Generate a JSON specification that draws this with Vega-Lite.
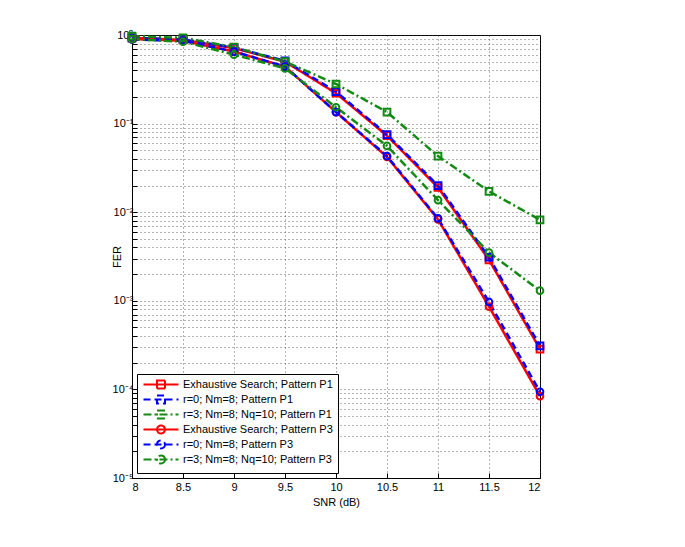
{
  "$schema": "https://vega.github.io/schema/vega-lite/v6.json",
  "autosize": "none",
  "padding": {"left": 132, "top": 35, "right": 145, "bottom": 69},
  "width": 408,
  "height": 443,
  "background": "white",
  "config": {
    "font": "Liberation Sans",
    "view": {"stroke": "black", "strokeWidth": 1},
    "axis": {
      "labelFont": "Liberation Sans",
      "titleFont": "Liberation Sans",
      "labelFontSize": 11,
      "titleFontSize": 11,
      "titleFontWeight": "normal",
      "labelColor": "black",
      "titleColor": "black",
      "domainColor": "black",
      "tickColor": "black",
      "grid": true,
      "gridColor": "#333",
      "gridDash": [1, 3],
      "gridOpacity": 0.75,
      "tickSize": -5
    },
    "legend": {
      "title": null,
      "orient": "bottom-left",
      "offset": 5,
      "padding": 5,
      "strokeColor": "black",
      "fillColor": "white",
      "labelFont": "Liberation Sans",
      "labelFontSize": 11,
      "labelColor": "black",
      "symbolSize": 64,
      "symbolStrokeWidth": 2,
      "symbolOpacity": 1,
      "labelOffset": 30,
      "rowPadding": -2
    }
  },
  "data": {
    "values": [
      {"snr": 8, "fer": 0.93, "series": "Exhaustive Search; Pattern P1"},
      {"snr": 8.5, "fer": 0.88, "series": "Exhaustive Search; Pattern P1"},
      {"snr": 9, "fer": 0.71, "series": "Exhaustive Search; Pattern P1"},
      {"snr": 9.5, "fer": 0.5, "series": "Exhaustive Search; Pattern P1"},
      {"snr": 10, "fer": 0.22, "series": "Exhaustive Search; Pattern P1"},
      {"snr": 10.5, "fer": 0.073, "series": "Exhaustive Search; Pattern P1"},
      {"snr": 11, "fer": 0.019, "series": "Exhaustive Search; Pattern P1"},
      {"snr": 11.5, "fer": 0.0029, "series": "Exhaustive Search; Pattern P1"},
      {"snr": 12, "fer": 0.000285, "series": "Exhaustive Search; Pattern P1"},
      {"snr": 8, "fer": 0.93, "series": "r=0; Nm=8; Pattern P1"},
      {"snr": 8.5, "fer": 0.89, "series": "r=0; Nm=8; Pattern P1"},
      {"snr": 9, "fer": 0.72, "series": "r=0; Nm=8; Pattern P1"},
      {"snr": 9.5, "fer": 0.51, "series": "r=0; Nm=8; Pattern P1"},
      {"snr": 10, "fer": 0.23, "series": "r=0; Nm=8; Pattern P1"},
      {"snr": 10.5, "fer": 0.075, "series": "r=0; Nm=8; Pattern P1"},
      {"snr": 11, "fer": 0.02, "series": "r=0; Nm=8; Pattern P1"},
      {"snr": 11.5, "fer": 0.0031, "series": "r=0; Nm=8; Pattern P1"},
      {"snr": 12, "fer": 0.00031, "series": "r=0; Nm=8; Pattern P1"},
      {"snr": 8, "fer": 0.97, "series": "r=3; Nm=8; Nq=10; Pattern P1"},
      {"snr": 8.5, "fer": 0.93, "series": "r=3; Nm=8; Nq=10; Pattern P1"},
      {"snr": 9, "fer": 0.73, "series": "r=3; Nm=8; Nq=10; Pattern P1"},
      {"snr": 9.5, "fer": 0.5, "series": "r=3; Nm=8; Nq=10; Pattern P1"},
      {"snr": 10, "fer": 0.28, "series": "r=3; Nm=8; Nq=10; Pattern P1"},
      {"snr": 10.5, "fer": 0.135, "series": "r=3; Nm=8; Nq=10; Pattern P1"},
      {"snr": 11, "fer": 0.043, "series": "r=3; Nm=8; Nq=10; Pattern P1"},
      {"snr": 11.5, "fer": 0.0172, "series": "r=3; Nm=8; Nq=10; Pattern P1"},
      {"snr": 12, "fer": 0.0082, "series": "r=3; Nm=8; Nq=10; Pattern P1"},
      {"snr": 8, "fer": 0.9, "series": "Exhaustive Search; Pattern P3"},
      {"snr": 8.5, "fer": 0.86, "series": "Exhaustive Search; Pattern P3"},
      {"snr": 9, "fer": 0.65, "series": "Exhaustive Search; Pattern P3"},
      {"snr": 9.5, "fer": 0.44, "series": "Exhaustive Search; Pattern P3"},
      {"snr": 10, "fer": 0.135, "series": "Exhaustive Search; Pattern P3"},
      {"snr": 10.5, "fer": 0.042, "series": "Exhaustive Search; Pattern P3"},
      {"snr": 11, "fer": 0.0083, "series": "Exhaustive Search; Pattern P3"},
      {"snr": 11.5, "fer": 0.00086, "series": "Exhaustive Search; Pattern P3"},
      {"snr": 12, "fer": 0.000084, "series": "Exhaustive Search; Pattern P3"},
      {"snr": 8, "fer": 0.89, "series": "r=0; Nm=8; Pattern P3"},
      {"snr": 8.5, "fer": 0.86, "series": "r=0; Nm=8; Pattern P3"},
      {"snr": 9, "fer": 0.65, "series": "r=0; Nm=8; Pattern P3"},
      {"snr": 9.5, "fer": 0.44, "series": "r=0; Nm=8; Pattern P3"},
      {"snr": 10, "fer": 0.135, "series": "r=0; Nm=8; Pattern P3"},
      {"snr": 10.5, "fer": 0.043, "series": "r=0; Nm=8; Pattern P3"},
      {"snr": 11, "fer": 0.0085, "series": "r=0; Nm=8; Pattern P3"},
      {"snr": 11.5, "fer": 0.00097, "series": "r=0; Nm=8; Pattern P3"},
      {"snr": 12, "fer": 0.000094, "series": "r=0; Nm=8; Pattern P3"},
      {"snr": 8, "fer": 0.9, "series": "r=3; Nm=8; Nq=10; Pattern P3"},
      {"snr": 8.5, "fer": 0.84, "series": "r=3; Nm=8; Nq=10; Pattern P3"},
      {"snr": 9, "fer": 0.6, "series": "r=3; Nm=8; Nq=10; Pattern P3"},
      {"snr": 9.5, "fer": 0.42, "series": "r=3; Nm=8; Nq=10; Pattern P3"},
      {"snr": 10, "fer": 0.153, "series": "r=3; Nm=8; Nq=10; Pattern P3"},
      {"snr": 10.5, "fer": 0.056, "series": "r=3; Nm=8; Nq=10; Pattern P3"},
      {"snr": 11, "fer": 0.0137, "series": "r=3; Nm=8; Nq=10; Pattern P3"},
      {"snr": 11.5, "fer": 0.0035, "series": "r=3; Nm=8; Nq=10; Pattern P3"},
      {"snr": 12, "fer": 0.0013, "series": "r=3; Nm=8; Nq=10; Pattern P3"}
    ]
  },
  "encoding": {
    "x": {
      "field": "snr",
      "type": "quantitative",
      "scale": {"domain": [8, 12], "nice": false, "zero": false},
      "axis": {
        "title": "SNR (dB)",
        "values": [8, 8.5, 9, 9.5, 10, 10.5, 11, 11.5, 12],
        "format": "~g",
        "labelPadding": 8,
        "titlePadding": 4
      }
    },
    "y": {
      "field": "fer",
      "type": "quantitative",
      "scale": {"type": "log", "domain": [0.00001, 1], "nice": false},
      "axis": {
        "title": "FER",
        "titlePadding": -10,
        "labelPadding": 4,
        "values": [0.00001, 0.00002, 0.00003, 0.00004, 0.00005, 0.00006, 0.00007, 0.00008, 0.00009,
                   0.0001, 0.0002, 0.0003, 0.0004, 0.0005, 0.0006, 0.0007, 0.0008, 0.0009,
                   0.001, 0.002, 0.003, 0.004, 0.005, 0.006, 0.007, 0.008, 0.009,
                   0.01, 0.02, 0.03, 0.04, 0.05, 0.06, 0.07, 0.08, 0.09,
                   0.1, 0.2, 0.3, 0.4, 0.5, 0.6, 0.7, 0.8, 0.9, 1],
        "labelExpr": "abs(log(datum.value)/LN10 - round(log(datum.value)/LN10)) > 0.001 ? '' : (round(log(datum.value)/LN10) == 0 ? '10⁰' : '10⁻' + ['', '¹', '²', '³', '⁴', '⁵'][-round(log(datum.value)/LN10)])"
      }
    }
  },
  "layer": [
    {
      "mark": {"type": "line", "strokeWidth": 2.5},
      "encoding": {
        "color": {
          "field": "series",
          "type": "nominal",
          "scale": {
            "domain": ["Exhaustive Search; Pattern P1", "r=0; Nm=8; Pattern P1", "r=3; Nm=8; Nq=10; Pattern P1", "Exhaustive Search; Pattern P3", "r=0; Nm=8; Pattern P3", "r=3; Nm=8; Nq=10; Pattern P3"],
            "range": ["#ff0000", "#0000ff", "#138a13", "#ff0000", "#0000ff", "#138a13"]
          },
          "legend": {"title": null}
        },
        "strokeDash": {
          "field": "series",
          "type": "nominal",
          "scale": {
            "domain": ["Exhaustive Search; Pattern P1", "r=0; Nm=8; Pattern P1", "r=3; Nm=8; Nq=10; Pattern P1", "Exhaustive Search; Pattern P3", "r=0; Nm=8; Pattern P3", "r=3; Nm=8; Nq=10; Pattern P3"],
            "range": [[1, 0], [7, 4], [8, 3, 2, 3], [1, 0], [7, 4], [8, 3, 2, 3]]
          },
          "legend": {"title": null}
        }
      }
    },
    {
      "mark": {"type": "point", "opacity": 0, "filled": false},
      "encoding": {
        "color": {"field": "series", "type": "nominal", "legend": {"title": null}},
        "shape": {
          "field": "series",
          "type": "nominal",
          "scale": {
            "domain": ["Exhaustive Search; Pattern P1", "r=0; Nm=8; Pattern P1", "r=3; Nm=8; Nq=10; Pattern P1", "Exhaustive Search; Pattern P3", "r=0; Nm=8; Pattern P3", "r=3; Nm=8; Nq=10; Pattern P3"],
            "range": [
              "M-1,0H7.75M2.375,-1H4.375V1H2.375Z",
              "M-1,0H7.75M2.375,-1H4.375V1H2.375Z",
              "M-1,0H7.75M2.375,-1H4.375V1H2.375Z",
              "M-1,0H7.75M4.375,0A1,1 0 1 1 2.375,0A1,1 0 1 1 4.375,0Z",
              "M-1,0H7.75M4.375,0A1,1 0 1 1 2.375,0A1,1 0 1 1 4.375,0Z",
              "M-1,0H7.75M4.375,0A1,1 0 1 1 2.375,0A1,1 0 1 1 4.375,0Z"
            ]
          },
          "legend": {"title": null}
        }
      }
    },
    {
      "transform": [{"filter": "indexof(datum.series, 'P1') >= 0"}],
      "mark": {"type": "point", "shape": "square", "filled": false, "strokeWidth": 2, "size": 45, "opacity": 1},
      "encoding": {
        "color": {"field": "series", "type": "nominal", "legend": null}
      }
    },
    {
      "transform": [{"filter": "indexof(datum.series, 'P3') >= 0"}],
      "mark": {"type": "point", "shape": "circle", "filled": false, "strokeWidth": 2, "size": 45, "opacity": 1},
      "encoding": {
        "color": {"field": "series", "type": "nominal", "legend": null}
      }
    }
  ]
}
